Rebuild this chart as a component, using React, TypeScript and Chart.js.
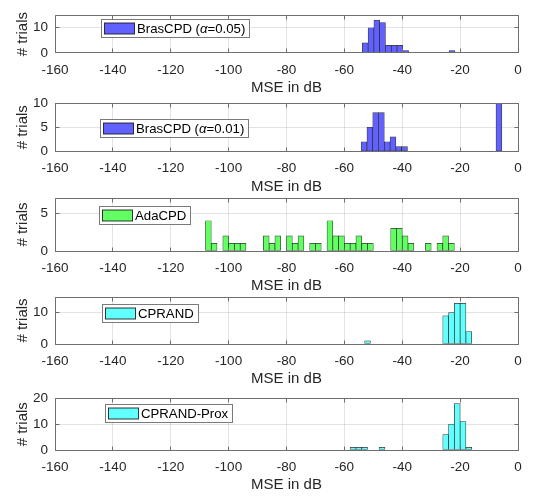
import React, { useEffect, useRef } from "react";
import { Chart, registerables } from "chart.js";

Chart.register(...registerables);

// ---------- data ----------
const xTicks = [-160, -140, -120, -100, -80, -60, -40, -20, 0];

const brasCPD005Centers = [-52.8, -50.8, -48.8, -46.8, -44.8, -42.8, -40.8, -38.8, -22.8];
const brasCPD005Counts = [4, 10, 13, 12, 3, 3, 3, 1, 1];
const brasCPD005YTicks = [0, 10];

const brasCPD001Centers = [-53.2, -51.2, -49.2, -47.2, -45.2, -43.2, -41.2, -39.2, -6.6];
const brasCPD001Counts = [2, 5, 8, 8, 2, 3, 1, 1, 20];
const brasCPD001YTicks = [0, 5, 10];

const adaCPDCenters = [
  -107, -105, -101, -99, -97, -95, -87, -85, -83, -79, -77, -75, -71, -69, -65,
  -63, -61, -59, -57, -55, -53, -51, -43, -41, -39, -37, -31, -27, -25, -23,
];
const adaCPDCounts = [
  4, 1, 2, 1, 1, 1, 2, 1, 2, 2, 1, 2, 1, 1, 4,
  2, 2, 1, 1, 2, 1, 1, 3, 3, 2, 1, 1, 1, 2, 1,
];
const adaCPDYTicks = [0, 5];

const cprandCenters = [-52, -25, -23, -21, -19, -17];
const cprandCounts = [1, 9, 10, 13, 13, 4];
const cprandYTicks = [0, 10];

const cprandProxCenters = [-57, -55, -53, -47, -25, -23, -21, -19, -17];
const cprandProxCounts = [1, 1, 1, 1, 6, 10, 18, 11, 1];
const cprandProxYTicks = [0, 10, 20];

const seriesLabels = ["BrasCPD (α=0.05)", "BrasCPD (α=0.01)", "AdaCPD", "CPRAND", "CPRAND-Prox"];
const xTitle = "MSE in dB";
const yTitle = "# trials";

// ---------- style ----------
const W = 533;
const H = 497;
const FONT = "'Liberation Sans', Arial, Helvetica, sans-serif";
const TEXT = "#262626";
const GRID = "rgba(38,38,38,0.13)";
const BOX = "#6e6e6e";
const EDGE = "rgba(20,20,20,0.85)";
const BLUE = "#6161ff";
const GREEN = "#62ff62";
const CYAN = "#62ffff";
const PLOT_LEFT = 55;
const PLOT_RIGHT = 518;
const XAXIS_H = 44;

type Spec = {
  label: string;
  centers: number[];
  counts: number[];
  yTicks: number[];
  yMax: number;
  fill: string;
  top: number;
  bottom: number;
  lx: number;
  ly: number;
};

const specs: Spec[] = [
  { label: seriesLabels[0], centers: brasCPD005Centers, counts: brasCPD005Counts, yTicks: brasCPD005YTicks, yMax: 15, fill: BLUE, top: 5, bottom: 53, lx: 46, ly: 4 },
  { label: seriesLabels[1], centers: brasCPD001Centers, counts: brasCPD001Counts, yTicks: brasCPD001YTicks, yMax: 10, fill: BLUE, top: 103, bottom: 151.5, lx: 45, ly: 16 },
  { label: seriesLabels[2], centers: adaCPDCenters, counts: adaCPDCounts, yTicks: adaCPDYTicks, yMax: 7, fill: GREEN, top: 198, bottom: 251, lx: 44, ly: 8 },
  { label: seriesLabels[3], centers: cprandCenters, counts: cprandCounts, yTicks: cprandYTicks, yMax: 15, fill: CYAN, top: 297, bottom: 344, lx: 47, ly: 7 },
  { label: seriesLabels[4], centers: cprandProxCenters, counts: cprandProxCounts, yTicks: cprandProxYTicks, yMax: 20, fill: CYAN, top: 398.5, bottom: 450, lx: 50, ly: 5 },
];

function makePlugin(spec: Spec) {
  return {
    id: "matlabDecor",
    afterDatasetsDraw(chart: any) {
      const { ctx, chartArea } = chart;
      const { left, right, top, bottom } = chartArea;
      const xs = chart.scales.x;
      const ys = chart.scales.y;
      const L = Math.floor(left) + 0.5;
      const R = Math.floor(right) + 0.5;
      const T = Math.floor(top) + 0.5;
      const B = Math.floor(bottom) + 0.5;
      ctx.save();
      ctx.strokeStyle = BOX;
      ctx.lineWidth = 1;
      ctx.beginPath();
      ctx.rect(L, T, R - L, B - T);
      ctx.stroke();
      const tl = 4;
      ctx.beginPath();
      for (const v of xTicks) {
        const px = Math.floor(xs.getPixelForValue(v)) + 0.5;
        ctx.moveTo(px, B);
        ctx.lineTo(px, B - tl);
        ctx.moveTo(px, T);
        ctx.lineTo(px, T + tl);
      }
      for (const v of spec.yTicks) {
        const py = Math.floor(ys.getPixelForValue(v)) + 0.5;
        ctx.moveTo(L, py);
        ctx.lineTo(L + tl, py);
        ctx.moveTo(R, py);
        ctx.lineTo(R - tl, py);
      }
      ctx.stroke();

      // legend
      const fontN = `13.2px ${FONT}`;
      const fontI = `italic 13.2px ${FONT}`;
      const parts: { t: string; it: boolean }[] = [];
      const segs = spec.label.split("α");
      segs.forEach((s, i) => {
        if (s) parts.push({ t: s, it: false });
        if (i < segs.length - 1) parts.push({ t: "α", it: true });
      });
      let tw = 0;
      for (const p of parts) {
        ctx.font = p.it ? fontI : fontN;
        tw += ctx.measureText(p.t).width;
      }
      const bx = Math.round(left + spec.lx);
      const by = Math.round(top + spec.ly);
      const bh = 18;
      const sw = 30;
      const sh = 11;
      const bw = Math.round(3 + sw + 3 + tw + 4);
      ctx.fillStyle = "#ffffff";
      ctx.fillRect(bx, by, bw, bh);
      ctx.strokeStyle = "#7a7a7a";
      ctx.strokeRect(bx + 0.5, by + 0.5, bw, bh);
      ctx.fillStyle = spec.fill;
      ctx.fillRect(bx + 3.5, by + 4, sw, sh);
      ctx.strokeStyle = EDGE;
      ctx.strokeRect(bx + 3.5, by + 4, sw, sh);
      let tx = bx + 3 + sw + 3;
      ctx.fillStyle = "#000000";
      ctx.textBaseline = "middle";
      ctx.textAlign = "left";
      for (const p of parts) {
        ctx.font = p.it ? fontI : fontN;
        ctx.fillText(p.t, tx, by + bh / 2 + 1);
        tx += ctx.measureText(p.t).width;
      }
      ctx.restore();
    },
  };
}

function Panel({ spec }: { spec: Spec }) {
  const ref = useRef<HTMLCanvasElement | null>(null);
  useEffect(() => {
    if (!ref.current) return;
    const chart = new Chart(ref.current, {
      type: "bar",
      data: {
        datasets: [
          {
            label: spec.label,
            data: spec.centers.map((c, i) => ({ x: c, y: spec.counts[i] })),
            backgroundColor: spec.fill,
            borderColor: EDGE,
            borderWidth: 0.7,
            borderSkipped: false,
            barPercentage: 1,
            categoryPercentage: 1,
          } as any,
        ],
      },
      options: {
        responsive: false,
        maintainAspectRatio: false,
        animation: false,
        devicePixelRatio: 1,
        layout: {
          padding: {
            top: spec.top,
            left: 0,
            right: W - PLOT_RIGHT,
            bottom: H - spec.bottom - XAXIS_H,
          },
        },
        plugins: { legend: { display: false }, tooltip: { enabled: false } },
        scales: {
          x: {
            type: "linear",
            min: -160,
            max: 0,
            offset: false,
            afterBuildTicks: (s: any) => {
              s.ticks = xTicks.map((v) => ({ value: v }));
            },
            afterFit: (s: any) => {
              s.height = XAXIS_H;
            },
            grid: { color: GRID, drawTicks: false, offset: false },
            border: { display: false },
            ticks: {
              color: TEXT,
              font: { family: FONT, size: 13.5 },
              padding: 9,
              maxRotation: 0,
              autoSkip: false,
            },
            title: {
              display: true,
              text: xTitle,
              color: TEXT,
              font: { family: FONT, size: 15 },
              padding: { top: 0, bottom: 0 },
            },
          },
          y: {
            type: "linear",
            min: 0,
            max: spec.yMax,
            afterBuildTicks: (s: any) => {
              s.ticks = spec.yTicks.map((v) => ({ value: v }));
            },
            afterFit: (s: any) => {
              s.width = PLOT_LEFT;
            },
            grid: { color: GRID, drawTicks: false },
            border: { display: false },
            ticks: {
              color: TEXT,
              font: { family: FONT, size: 13.5 },
              padding: 7,
            },
            title: {
              display: true,
              text: yTitle,
              color: TEXT,
              font: { family: FONT, size: 15 },
              padding: { top: 14, bottom: 0 },
            },
          },
        },
      } as any,
      plugins: [makePlugin(spec)],
    });
    return () => chart.destroy();
  }, [spec]);
  return (
    <canvas
      ref={ref}
      width={W}
      height={H}
      style={{ position: "absolute", left: 0, top: 0, width: W, height: H }}
    />
  );
}

export default function App() {
  return (
    <div style={{ position: "absolute", left: 0, top: 0, width: W, height: H, background: "#ffffff" }}>
      {specs.map((s, i) => (
        <Panel key={i} spec={s} />
      ))}
    </div>
  );
}
